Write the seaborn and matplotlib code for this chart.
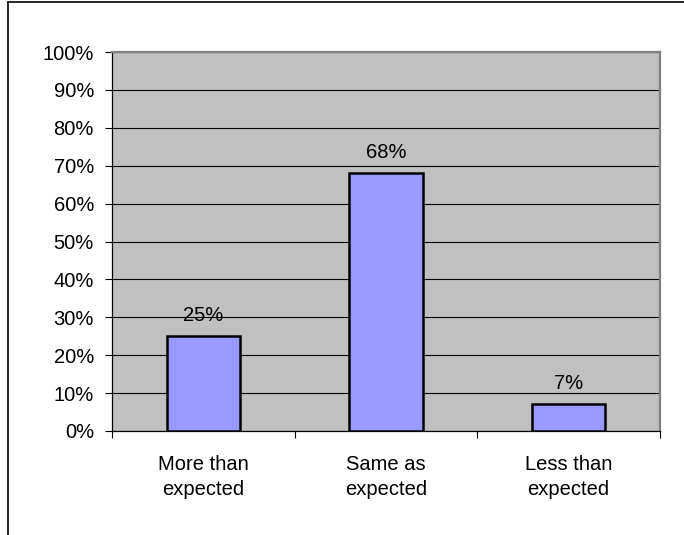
import matplotlib
matplotlib.use("Agg")
import matplotlib.pyplot as plt
from matplotlib.lines import Line2D
from matplotlib.ticker import FuncFormatter, FixedLocator
import seaborn as sns
import pandas as pd

categories = ["More than\nexpected", "Same as\nexpected", "Less than\nexpected"]
values = [25, 68, 7]
value_labels = ["25%", "68%", "7%"]

df = pd.DataFrame({"category": categories, "value": values})

sns.set_style("white")
plt.rcParams["font.family"] = ["Liberation Sans", "DejaVu Sans"]
plt.rcParams["text.color"] = "black"
plt.rcParams["xtick.color"] = "black"
plt.rcParams["ytick.color"] = "black"

fs = 14.5
fig = plt.figure(figsize=(6.84, 5.35), dpi=100)
ax = fig.add_axes([112 / 684, 1 - 431 / 535, 548 / 684, 379 / 535])

sns.barplot(data=df, x="category", y="value", color="#9999FF", width=0.4,
            edgecolor="black", linewidth=1.8, saturation=1, ax=ax, zorder=3)

ax.set_facecolor("#C0C0C0")
ax.set_ylim(0, 100)
ax.set_xlim(-0.5, 2.5)
ax.set_yticks(range(0, 101, 10))
ax.yaxis.set_major_formatter(FuncFormatter(lambda v, p: f"{int(v)}%"))
ax.grid(axis="y", color="black", linewidth=0.8, zorder=0)
ax.set_axisbelow(True)
ax.set_xlabel("")
ax.set_ylabel("")

# category ticks sit at boundaries
ax.xaxis.set_major_locator(FixedLocator([0, 1, 2]))
ax.xaxis.set_minor_locator(FixedLocator([-0.5, 0.5, 1.5, 2.5]))
ax.tick_params(axis="x", which="major", length=0, pad=17, labelsize=fs)
ax.tick_params(axis="x", which="minor", length=5, width=0.8, color="black", direction="out")
ax.tick_params(axis="y", length=5, width=0.8, color="black", direction="out", labelsize=fs, pad=8)
ax.xaxis.set_tick_params(bottom=True, which="both")
ax.yaxis.set_tick_params(left=True)
for t in ax.get_xticklabels():
    t.set_linespacing(1.45)

for side in ["top", "right"]:
    ax.spines[side].set_color("#808080")
    ax.spines[side].set_linewidth(1.6)
for side in ["left", "bottom"]:
    ax.spines[side].set_color("black")
    ax.spines[side].set_linewidth(0.9)

for i, (v, lab) in enumerate(zip(values, value_labels)):
    ax.annotate(lab, (i, v), xytext=(0, 8), textcoords="offset points",
                ha="center", va="bottom", fontsize=fs)

# chart border (left and top edges only are visible)
fig.add_artist(Line2D([7.5 / 684, 7.5 / 684], [0, 1 - 2 / 535],
                      transform=fig.transFigure, color="black", linewidth=1.2))
fig.add_artist(Line2D([7.5 / 684, 1], [1 - 2 / 535, 1 - 2 / 535],
                      transform=fig.transFigure, color="black", linewidth=1.2))

fig.savefig("out.png", dpi=100)
